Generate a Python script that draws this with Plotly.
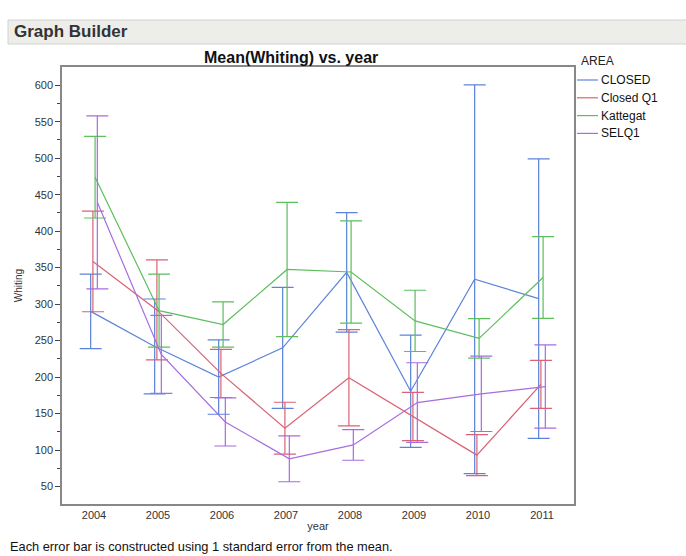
import plotly.graph_objects as go

# Mean Whiting catch per year and area, with 1 standard error
years = [2004, 2005, 2006, 2007, 2008, 2009, 2010, 2011]
areas = ["CLOSED", "Closed Q1", "Kattegat", "SELQ1"]

closed_mean = [290, 242, 200, 240, 343.5, 180.5, 334, 307.5]
closed_se = [51, 65, 51, 83, 82, 77, 266.5, 191.5]

closedq1_mean = [358.5, 292, 205, 130, 199, 146, 93, 190]
closedq1_se = [69, 68.5, 33, 35.5, 66, 33, 28, 33]

kattegat_mean = [474, 291, 272, 347.5, 344, 277, 253, 336.5]
kattegat_se = [56, 50, 31, 92, 70, 42, 27, 56]

selq1_mean = [439.5, 231, 138.5, 88, 107, 165, 177, 187]
selq1_se = [118.5, 53.5, 33, 31.5, 21, 54.6, 51.6, 57]

colors = ["#5B83DA", "#DA6274", "#5DBE5D", "#A66DE0"]
dodge = [-0.052, -0.017, 0.017, 0.052]

series = [
    (closed_mean, closed_se),
    (closedq1_mean, closedq1_se),
    (kattegat_mean, kattegat_se),
    (selq1_mean, selq1_se),
]

FONT = "Liberation Sans, Arial, Helvetica, sans-serif"
W, H = 686, 556
L, R, T, B = 62, 574, 67, 504

fig = go.Figure()
for name, (m, se), c, d in zip(areas, series, colors, dodge):
    fig.add_trace(go.Scatter(
        x=[y + d for y in years], y=m, name=name, mode="lines",
        line=dict(color=c, width=1.2),
        error_y=dict(type="data", array=se, visible=True, color=c,
                     thickness=1.2, width=11),
        showlegend=False,
    ))


def px_x(px):
    return (px - L) / (R - L)


def px_y(py):
    return (B - py) / (B - T)


shapes = [
    # "Graph Builder" header band
    dict(type="rect", xref="paper", yref="paper",
         x0=px_x(8), x1=px_x(690), y0=px_y(44), y1=px_y(20),
         fillcolor="#EDEDE9", line=dict(color="#D2D2CE", width=1), layer="below"),
]
annotations = [
    dict(text="<b>Graph Builder</b>", xref="paper", yref="paper",
         x=px_x(12), y=px_y(32), xanchor="left", yanchor="middle",
         showarrow=False, font=dict(size=17, color="#333333", family=FONT)),
    dict(text="<b>Mean(Whiting) vs. year</b>", xref="paper", yref="paper",
         x=px_x(291), y=px_y(57), xanchor="center", yanchor="middle",
         showarrow=False, font=dict(size=16, color="#111111", family=FONT)),
    dict(text="AREA", xref="paper", yref="paper",
         x=px_x(579), y=px_y(61), xanchor="left", yanchor="middle",
         showarrow=False, font=dict(size=12, color="#222222", family=FONT)),
    dict(text="Each error bar is constructed using 1 standard error from the mean.",
         xref="paper", yref="paper", x=px_x(8), y=px_y(546),
         xanchor="left", yanchor="middle", showarrow=False,
         font=dict(size=12.8, color="#111111", family=FONT)),
]

# Legend drawn as line swatches with labels
for i, (name, c) in enumerate(zip(areas, colors)):
    yy = 80 + i * 17.8
    shapes.append(dict(type="line", xref="paper", yref="paper",
                       x0=px_x(577), x1=px_x(598), y0=px_y(yy), y1=px_y(yy),
                       line=dict(color=c, width=1.2)))
    annotations.append(dict(text=name, xref="paper", yref="paper",
                            x=px_x(599), y=px_y(yy), xanchor="left", yanchor="middle",
                            showarrow=False,
                            font=dict(size=12, color="#111111", family=FONT)))

fig.update_layout(
    width=W, height=H,
    margin=dict(l=L, r=W - R, t=T, b=H - B, pad=0),
    paper_bgcolor="white", plot_bgcolor="white",
    font=dict(family=FONT, size=11, color="#333333"),
    shapes=shapes, annotations=annotations,
    showlegend=False,
)
fig.update_xaxes(
    range=[2003.5, 2011.5], tickvals=years, ticktext=[str(y) for y in years],
    showgrid=False, zeroline=False, ticks="", showline=True, mirror=True,
    linecolor="#888888", linewidth=1.5,
    tickfont=dict(size=11, color="#333333"),
    title=dict(text="year", font=dict(size=11, color="#333333"), standoff=2),
)
fig.update_yaxes(
    range=[26, 625], tickvals=list(range(50, 601, 50)),
    showgrid=False, zeroline=False, ticks="outside", ticklen=5,
    tickcolor="#444444", showline=True, mirror=True,
    linecolor="#888888", linewidth=1.5,
    minor=dict(tickvals=list(range(75, 576, 50)), ticks="outside", ticklen=3,
               tickcolor="#444444", showgrid=False),
    tickfont=dict(size=11, color="#333333"),
    title=dict(text="Whiting", font=dict(size=10, color="#333333"), standoff=10),
)

fig.write_html("out.html")
